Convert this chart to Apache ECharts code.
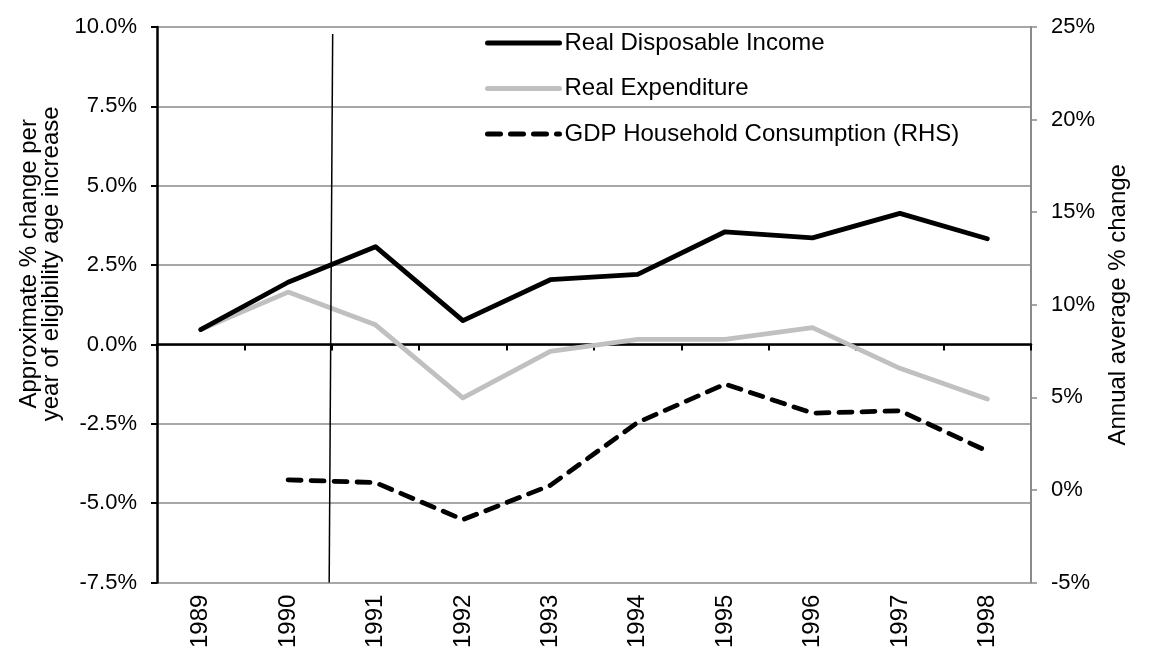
<!DOCTYPE html>
<html>
<head>
<meta charset="utf-8">
<script src="https://cdn.jsdelivr.net/npm/echarts@6/dist/echarts.min.js"></script>
<style>
html,body{margin:0;padding:0;background:#ffffff;}
#chart{width:1150px;height:651px;}
</style>
</head>
<body>
<div id="chart"></div>
<script>
// ---- data ----
const years = ['1989','1990','1991','1992','1993','1994','1995','1996','1997','1998'];
const realDisposableIncome = [0.47, 1.96, 3.08, 0.75, 2.04, 2.21, 3.55, 3.36, 4.13, 3.33];
const realExpenditure = [0.47, 1.65, 0.62, -1.68, -0.22, 0.16, 0.16, 0.53, -0.75, -1.72];
const gdpHouseholdConsumption = [null, 0.55, 0.4, -1.6, 0.25, 3.65, 5.72, 4.15, 4.28, 2.1];
// vertical reference line (category-position units, left-axis values)
const refLineX = [1.97, 2.01];
const refLineY = [-7.5, 9.78];
// axis ranges: [min, max, interval]
const leftAxisRange = [-7.5, 10, 2.5];
const rightAxisRange = [-5, 25, 5];
const seriesNames = ['Real Disposable Income', 'Real Expenditure', 'GDP Household Consumption (RHS)'];
const leftAxisTitle = 'Approximate % change per\nyear of eligibility age increase';
const rightAxisTitle = 'Annual average % change';

const FONT = 'Liberation Sans, Arial, Helvetica, sans-serif';
const GRID_GRAY = '#8a8a8a';

const chart = echarts.init(document.getElementById('chart'), null, {renderer: 'canvas'});
const option = {
  animation: false,
  backgroundColor: '#ffffff',
  textStyle: {fontFamily: FONT, color: '#000'},
  grid: {left: 157, right: 119, top: 27, bottom: 62, containLabel: false},
  legend: {
    data: seriesNames,
    orient: 'vertical',
    left: 485,
    top: 31,
    padding: 0,
    itemWidth: 72,
    itemHeight: 12,
    itemGap: 21.5,
    textStyle: {fontFamily: FONT, fontSize: 24, color: '#000'},
    itemStyle: {opacity: 0, color: 'rgba(0,0,0,0)', borderWidth: 0},
    lineStyle: {width: 5}
  },
  xAxis: [
    {
      type: 'category', data: years, position: 'bottom', boundaryGap: true,
      axisLine: {show: true, onZero: true, onZeroAxisIndex: 0, lineStyle: {color: '#000', width: 2.5}},
      axisTick: {show: true, length: 6, alignWithLabel: false, lineStyle: {color: '#000', width: 2}},
      axisLabel: {show: false},
      splitLine: {show: false}
    },
    {
      type: 'category', data: years, position: 'bottom', boundaryGap: true,
      axisLine: {show: false, onZero: false},
      axisTick: {show: false},
      axisLabel: {show: true, rotate: 90, margin: 12, fontSize: 24, fontFamily: FONT, color: '#000'},
      splitLine: {show: false}
    },
    {
      type: 'value', min: 0, max: years.length, show: false,
      axisLine: {onZero: false}, splitLine: {show: false}
    }
  ],
  yAxis: [
    {
      type: 'value', position: 'left',
      min: leftAxisRange[0], max: leftAxisRange[1], interval: leftAxisRange[2],
      axisLine: {show: true, onZero: false, lineStyle: {color: '#000', width: 2.5}},
      axisTick: {show: true, length: 6, lineStyle: {color: '#000', width: 2}},
      axisLabel: {margin: 20, fontSize: 22, fontFamily: FONT, color: '#000',
        formatter: v => v.toFixed(1) + '%'},
      splitLine: {show: true, lineStyle: {color: GRID_GRAY, width: 1.5}},
      name: leftAxisTitle, nameLocation: 'middle', nameRotate: 90, nameGap: 93,
      nameTextStyle: {fontSize: 24, fontFamily: FONT, color: '#000', lineHeight: 22, padding: [0, 0, 0, 82]}
    },
    {
      type: 'value', position: 'right',
      min: rightAxisRange[0], max: rightAxisRange[1], interval: rightAxisRange[2],
      axisLine: {show: true, onZero: false, lineStyle: {color: GRID_GRAY, width: 2}},
      axisTick: {show: true, length: 6, lineStyle: {color: GRID_GRAY, width: 1.5}},
      axisLabel: {margin: 20, fontSize: 22, fontFamily: FONT, color: '#000',
        formatter: v => v + '%'},
      splitLine: {show: false},
      name: rightAxisTitle, nameLocation: 'middle', nameRotate: 90, nameGap: 57,
      nameTextStyle: {fontSize: 24, fontFamily: FONT, color: '#000'}
    }
  ],
  series: [
    {
      name: seriesNames[0], type: 'line', xAxisIndex: 0, yAxisIndex: 0,
      data: realDisposableIncome, symbol: 'none', z: 4,
      lineStyle: {color: '#000', width: 4.8, cap: 'round', join: 'round'},
      itemStyle: {color: '#000'}
    },
    {
      name: seriesNames[1], type: 'line', xAxisIndex: 0, yAxisIndex: 0,
      data: realExpenditure, symbol: 'none', z: 3,
      lineStyle: {color: '#c0c0c0', width: 4.8, cap: 'round', join: 'round'},
      itemStyle: {color: '#c0c0c0'}
    },
    {
      name: seriesNames[2], type: 'line', xAxisIndex: 0, yAxisIndex: 1,
      data: gdpHouseholdConsumption, symbol: 'none', z: 4, connectNulls: false,
      lineStyle: {color: '#000', width: 4.8, type: [13, 10], cap: 'round', join: 'round'},
      itemStyle: {color: '#000'}
    },
    {
      name: 'refLine', type: 'line', xAxisIndex: 2, yAxisIndex: 0,
      data: refLineX.map((x, i) => [x, refLineY[i]]), symbol: 'none', silent: true, z: 5,
      lineStyle: {color: '#000', width: 1.5},
      itemStyle: {color: '#000'}
    }
  ]
};
chart.setOption(option);
</script>
</body>
</html>
